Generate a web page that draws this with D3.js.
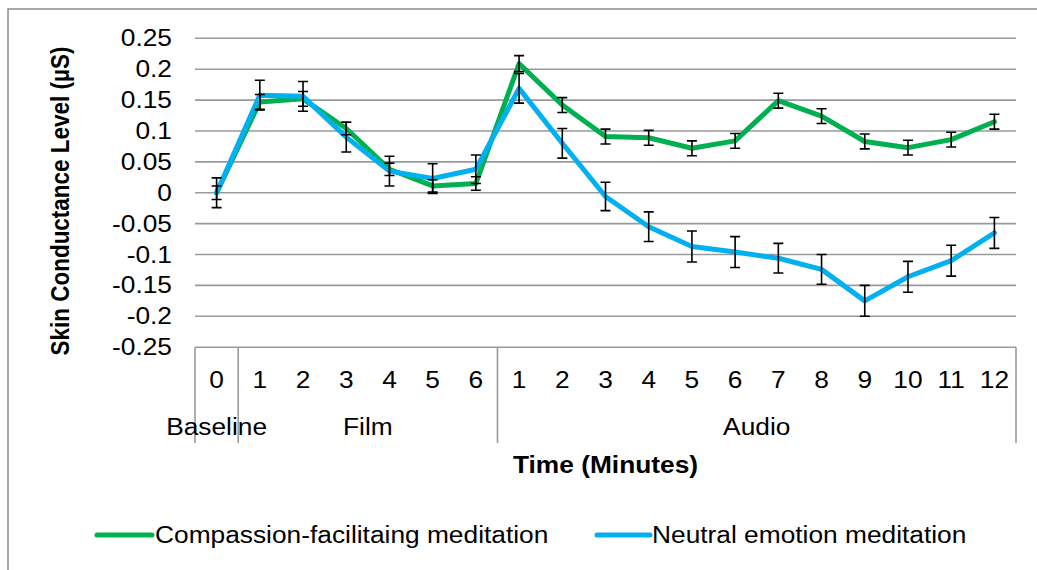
<!DOCTYPE html>
<html>
<head>
<meta charset="utf-8">
<script src="https://cdn.jsdelivr.net/npm/d3@7"></script>
<style>
  html, body { margin: 0; padding: 0; background: #fff; }
  svg { display: block; font-family: "Liberation Sans", Arial, sans-serif; }
</style>
</head>
<body>
<svg id="chart" width="1037" height="570"></svg>
<script>
// Minute labels on the inner category level and the phase each minute belongs to
const minutes = ["0", "1", "2", "3", "4", "5", "6", "1", "2", "3", "4", "5", "6", "7", "8", "9", "10", "11", "12"];
const phases = ["Baseline", "Film", "Film", "Film", "Film", "Film", "Film",
  "Audio", "Audio", "Audio", "Audio", "Audio", "Audio", "Audio", "Audio", "Audio", "Audio", "Audio", "Audio"];

// Mean skin conductance level (µS) per minute
const compassion = [0, 0.147, 0.152, 0.104, 0.038, 0.011, 0.015, 0.209, 0.142, 0.091, 0.089, 0.072, 0.084, 0.149, 0.124, 0.083, 0.073, 0.086, 0.115];
const neutral = [0, 0.158, 0.156, 0.090, 0.035, 0.023, 0.038, 0.169, 0.080, -0.006, -0.055, -0.087, -0.096, -0.106, -0.124, -0.175, -0.136, -0.110, -0.065];

// Standard errors
const compassionErr = [0.011, 0.012, 0.012, 0.010, 0.010, 0.010, 0.011, 0.013, 0.012, 0.012, 0.012, 0.012, 0.012, 0.012, 0.012, 0.012, 0.012, 0.012, 0.012];
const neutralErr = [0.024, 0.024, 0.024, 0.024, 0.024, 0.024, 0.023, 0.024, 0.024, 0.023, 0.024, 0.025, 0.025, 0.024, 0.024, 0.025, 0.025, 0.025, 0.025];

const yTicks = [-0.25, -0.2, -0.15, -0.1, -0.05, 0, 0.05, 0.1, 0.15, 0.2, 0.25];

const seriesNames = ["Compassion-facilitaing meditation", "Neutral emotion meditation"];
const seriesColors = ["#00B050", "#00B0F0"];

const svg = d3.select("#chart");
const plot = { left: 195, right: 1016, top: 38.3, bottom: 347.2 };
const tableBottom = 443;
const fontSize = 23.5;
const stretch = 1.12;   // glyphs are drawn slightly wide
const wide = `scale(${stretch},1)`;

// Outer chart frame (left and top edges fall inside the window)
svg.append("path")
  .attr("d", "M8,570 L8,9 L1037,9")
  .attr("fill", "none").attr("stroke", "#8c8c8c").attr("stroke-width", 1.5);

const keys = minutes.map((m, i) => i);
const x = d3.scaleBand().domain(keys).range([plot.left, plot.right]).padding(0);
const cx = i => x(i) + x.bandwidth() / 2;
const y = d3.scaleLinear().domain([-0.25, 0.25]).range([plot.bottom, plot.top]);

// Horizontal gridlines
svg.append("g").selectAll("line").data(yTicks).join("line")
  .attr("x1", plot.left).attr("x2", plot.right)
  .attr("y1", d => y(d)).attr("y2", d => y(d))
  .attr("stroke", "#9a9a9a").attr("stroke-width", 1.6);

// Value axis labels
const yAxis = d3.axisLeft(y).tickValues(yTicks).tickSize(0).tickPadding(0)
  .tickFormat(d => String(+d.toFixed(2)));
svg.append("g")
  .attr("transform", `translate(172,0)`)
  .call(yAxis)
  .call(g => g.select(".domain").remove())
  .call(g => g.selectAll("text")
    .attr("font-size", fontSize).attr("font-family", "'Liberation Sans', Arial, sans-serif")
    .attr("fill", "#000").attr("transform", wide));

// Category table: inner minute labels
const xAxis = d3.axisBottom(x).tickSize(0).tickPadding(0).tickFormat(i => minutes[i]);
svg.append("g")
  .attr("transform", `translate(0,${plot.bottom})`)
  .call(xAxis)
  .call(g => g.select(".domain").remove())
  .call(g => g.selectAll("text")
    .attr("font-size", fontSize).attr("font-family", "'Liberation Sans', Arial, sans-serif")
    .attr("fill", "#000").attr("y", 33).attr("dy", "0.35em").attr("transform", wide));

// Phase groups and their boundary lines
const groups = [];
phases.forEach((p, i) => {
  const last = groups[groups.length - 1];
  if (last && last.name === p) last.end = i; else groups.push({ name: p, start: i, end: i });
});
const bounds = [plot.left].concat(groups.map(g => x(g.end) + x.bandwidth()));
svg.append("g").selectAll("line").data(bounds).join("line")
  .attr("x1", d => d).attr("x2", d => d)
  .attr("y1", plot.bottom).attr("y2", tableBottom)
  .attr("stroke", "#9a9a9a").attr("stroke-width", 1.6);

svg.append("g").selectAll("text").data(groups).join("text")
  .attr("transform", g => `translate(${(x(g.start) + x(g.end) + x.bandwidth()) / 2},427) ${wide}`)
  .attr("dy", "0.35em")
  .attr("text-anchor", "middle")
  .attr("font-size", fontSize)
  .text(g => g.name);

// Axis titles
svg.append("text")
  .attr("transform", `translate(${(plot.left + plot.right) / 2},465) ${wide}`)
  .attr("dy", "0.35em")
  .attr("text-anchor", "middle").attr("font-size", fontSize).attr("font-weight", "bold")
  .text("Time (Minutes)");
svg.append("text")
  .attr("transform", `translate(60,201) ${wide} rotate(-90)`)
  .attr("dy", "0.35em")
  .attr("text-anchor", "middle").attr("font-size", 22.5).attr("font-weight", "bold")
  .text("Skin Conductance Level (µS)");

// Series lines
const series = [
  { name: seriesNames[0], color: seriesColors[0], values: compassion, err: compassionErr },
  { name: seriesNames[1], color: seriesColors[1], values: neutral, err: neutralErr }
];
const line = d3.line().x((d, i) => cx(i)).y(d => y(d));
svg.append("g").selectAll("path").data(series).join("path")
  .attr("d", s => line(s.values))
  .attr("fill", "none").attr("stroke", s => s.color)
  .attr("stroke-width", 5).attr("stroke-linejoin", "round").attr("stroke-linecap", "round");

// Error bars
const cap = 5;
series.forEach(s => {
  const g = svg.append("g").attr("stroke", "#000").attr("stroke-width", 1.6).attr("fill", "none");
  g.selectAll("path").data(s.values).join("path")
    .attr("d", (v, i) => {
      const px = cx(i), hi = y(v + s.err[i]), lo = y(v - s.err[i]);
      return `M${px},${hi}V${lo}M${px - cap},${hi}H${px + cap}M${px - cap},${lo}H${px + cap}`;
    });
});

// Legend
const legendItems = [
  { x1: 97, x2: 152, tx: 155 },
  { x1: 597, x2: 650, tx: 652 }
];
const lg = svg.append("g");
series.forEach((s, i) => {
  const it = legendItems[i];
  lg.append("line").attr("x1", it.x1).attr("x2", it.x2).attr("y1", 535).attr("y2", 535)
    .attr("stroke", s.color).attr("stroke-width", 5).attr("stroke-linecap", "round");
  lg.append("text").attr("transform", `translate(${it.tx},535) ${wide}`).attr("dy", "0.35em")
    .attr("font-size", fontSize).text(s.name);
});
</script>
</body>
</html>
